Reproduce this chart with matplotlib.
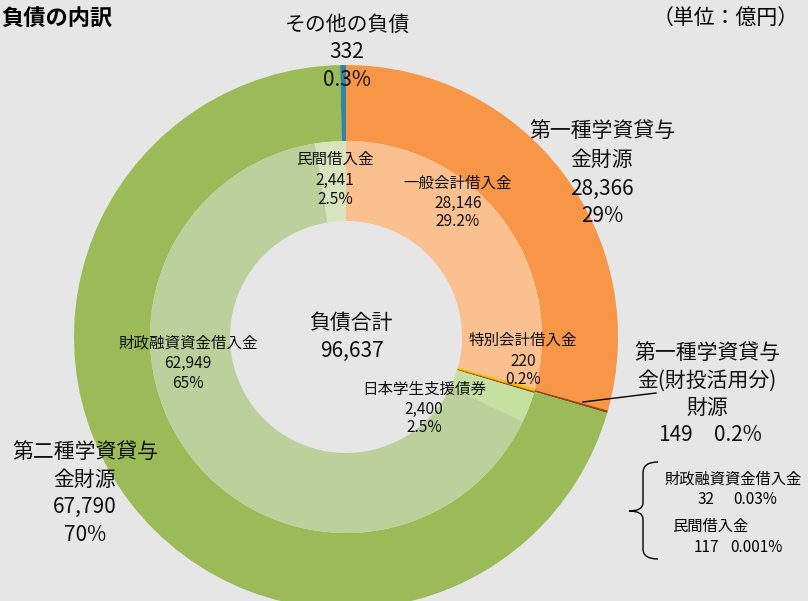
import matplotlib.pyplot as plt
from matplotlib.path import Path
from matplotlib.patches import PathPatch

plt.rcParams['font.family'] = ['Noto Sans CJK JP', 'DejaVu Sans']

W, H = 808, 601

# outer ring: 財源
outer_names = ['第一種学資貸与金財源', '第一種学資貸与金(財投活用分)財源', '第二種学資貸与金財源', 'その他の負債']
outer_vals = [28366, 149, 67790, 332]
outer_cols = ['#F79646', '#984807', '#9BBB59', '#31859C']

# inner ring: 借入先
inner_names = ['一般会計借入金', '特別会計借入金', '財政融資資金借入金(財投)', '民間借入金(財投)',
               '日本学生支援債券', '財政融資資金借入金', '民間借入金']
inner_vals = [28146, 220, 32, 117, 2400, 62949, 2441]
inner_cols = ['#FAC090', '#FFC000', '#984807', '#984807', '#C4E1A1', '#BBD09A', '#D7E4BD']

fig = plt.figure(figsize=(W / 100, H / 100), dpi=100, facecolor='#E6E6E6')
ax = fig.add_axes([0, 0, 1, 1])
ax.set_facecolor('#E6E6E6')

cx, cy = 346, 337
R, R1, R0 = 272, 196, 116

# y axis runs top-down (pixel like), so start at -90 and go "counterclockwise" = clockwise on screen
ax.pie(outer_vals, colors=outer_cols, radius=R, center=(cx, cy), startangle=-90,
       counterclock=True, wedgeprops=dict(width=R - R1, linewidth=0))
ax.pie(inner_vals, colors=inner_cols, radius=R1, center=(cx, cy), startangle=-90,
       counterclock=True, wedgeprops=dict(width=R1 - R0, linewidth=0))

ax.set_xlim(0, W)
ax.set_ylim(H, 0)
ax.set_aspect('equal')
ax.axis('off')


def lines(x, ys, texts, size, **kw):
    for y, t in zip(ys, texts):
        ax.text(x, y, t, fontsize=size, ha='center', va='center', color='#111111', **kw)


# titles
ax.text(1, 19, '負債の内訳', fontsize=16, fontweight='bold', ha='left', va='center')
ax.text(799, 18, '（単位：億円）', fontsize=15, ha='right', va='center')

# outer labels
lines(347, [25, 52, 80], ['その他の負債', '332', '0.3%'], 15)
lines(602, [131, 160, 189, 216], ['第一種学資貸与', '金財源', '28,366', '29%'], 15)
lines(707, [353, 381, 408], ['第一種学資貸与', '金(財投活用分)', '財源'], 15)
ax.text(675, 435, '149', fontsize=15, ha='center', va='center', color='#111111')
ax.text(738, 435, '0.2%', fontsize=15, ha='center', va='center', color='#111111')
lines(85, [452, 480, 507, 535], ['第二種学資貸与', '金財源', '67,790', '70%'], 15)
lines(352, [323, 351], ['負債合計', '96,637'], 15)

ax.plot([583, 656], [402, 393], color='black', lw=1)

# inner labels
fs = 11.2
lines(335, [159, 180, 200], ['民間借入金', '2,441', '2.5%'], fs)
lines(458, [183, 203, 222], ['一般会計借入金', '28,146', '29.2%'], fs)
lines(523, [340, 361, 380], ['特別会計借入金', '220', '0.2%'], fs)
lines(424, [389, 409, 428], ['日本学生支援債券', '2,400', '2.5%'], fs)
lines(188, [343, 363, 383], ['財政融資資金借入金', '62,949', '65%'], fs)

# brace for the 財投活用分 breakdown
verts = [(658, 462), (643, 462), (643, 473),
         (643, 503),
         (643, 511), (629, 511),
         (643, 511), (643, 519),
         (643, 549),
         (643, 559), (658, 559)]
codes = [Path.MOVETO, Path.CURVE3, Path.CURVE3,
         Path.LINETO,
         Path.CURVE3, Path.CURVE3,
         Path.CURVE3, Path.CURVE3,
         Path.LINETO,
         Path.CURVE3, Path.CURVE3]
ax.add_patch(PathPatch(Path(verts, codes), facecolor='none', edgecolor='black', lw=1))

ax.text(665, 479, '財政融資資金借入金', fontsize=11, ha='left', va='center')
ax.text(706, 500, '32', fontsize=11, ha='center', va='center')
ax.text(755, 500, '0.03%', fontsize=11, ha='center', va='center')
ax.text(672, 526, '民間借入金', fontsize=11, ha='left', va='center')
ax.text(706, 547, '117', fontsize=11, ha='center', va='center')
ax.text(756, 547, '0.001%', fontsize=11, ha='center', va='center')

fig.savefig('out.png', dpi=100, facecolor=fig.get_facecolor())
